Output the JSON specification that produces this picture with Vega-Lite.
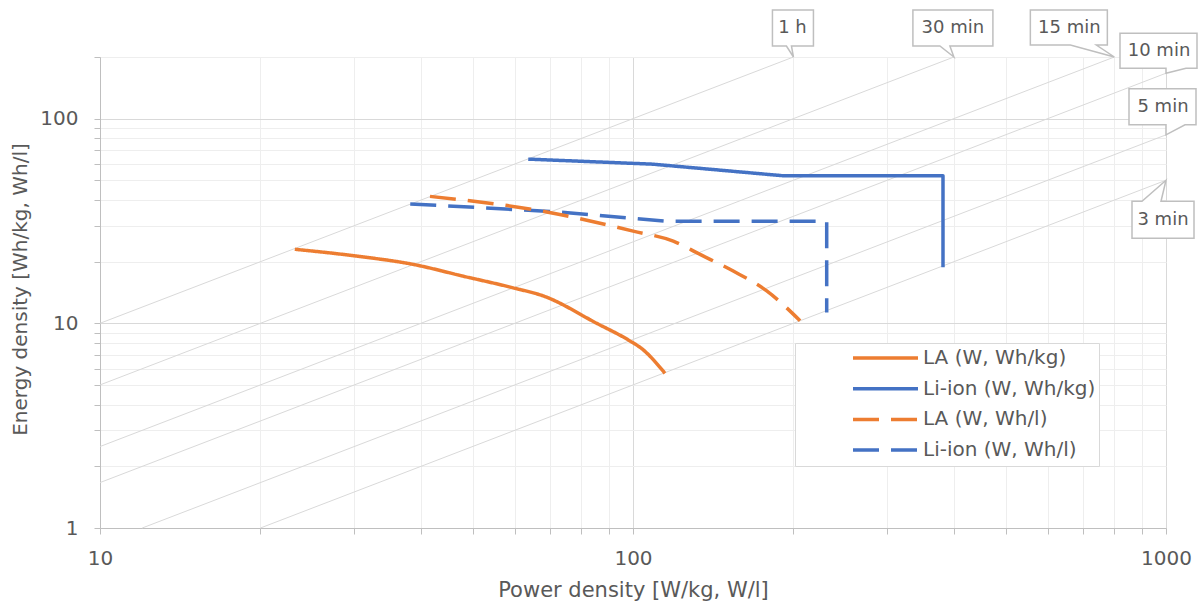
{
  "$schema": "https://vega.github.io/schema/vega-lite/v6.json",
  "width": 1066,
  "height": 471,
  "autosize": {"type": "none"},
  "padding": {"left": 100, "top": 57, "right": 36, "bottom": 77},
  "background": "white",
  "config": {
    "view": {"stroke": null},
    "font": "DejaVu Sans",
    "axis": {
      "tickColor": "#bfbfbf",
      "tickSize": 6,
      "domainColor": "#bfbfbf",
      "labelFontSize": 20,
      "labelColor": "#595959",
      "titleFontSize": 21,
      "titleColor": "#595959",
      "titleFontWeight": "normal",
      "labelFlush": false,
      "labelOverlap": false,
      "gridWidth": 1
    },
    "legend": {
      "title": null,
      "orient": "none",
      "legendX": 695,
      "legendY": 286,
      "padding": 3,
      "strokeColor": "#d9d9d9",
      "fillColor": "white",
      "symbolType": "stroke",
      "symbolSize": 4225,
      "symbolStrokeWidth": 3.5,
      "symbolOffset": 53,
      "labelOffset": 3,
      "clipHeight": 24,
      "rowPadding": 6.7,
      "labelFontSize": 20,
      "labelColor": "#595959",
      "labelLimit": 300
    }
  },
  "datasets": {
    "iso": [
      {"t": "1 h", "P": 10, "E": 10}, {"t": "1 h", "P": 200, "E": 200},
      {"t": "30 min", "P": 10, "E": 5}, {"t": "30 min", "P": 400, "E": 200},
      {"t": "15 min", "P": 10, "E": 2.5}, {"t": "15 min", "P": 800, "E": 200},
      {"t": "10 min", "P": 10, "E": 1.6667}, {"t": "10 min", "P": 1000, "E": 166.67},
      {"t": "5 min", "P": 12, "E": 1}, {"t": "5 min", "P": 1000, "E": 83.33},
      {"t": "3 min", "P": 20, "E": 1}, {"t": "3 min", "P": 1000, "E": 50}
    ],
    "callouts": [
      {"label": "1 h", "P": 200, "E": 200},
      {"label": "30 min", "P": 400, "E": 200},
      {"label": "15 min", "P": 800, "E": 200},
      {"label": "10 min", "P": 1000, "E": 166.67},
      {"label": "5 min", "P": 1000, "E": 83.33},
      {"label": "3 min", "P": 1000, "E": 50}
    ],
    "la": [
      {"series": "LA (W, Wh/kg)", "i": 1, "P": 23.2, "E": 23.0},
      {"series": "LA (W, Wh/kg)", "i": 2, "P": 30.3, "E": 21.3},
      {"series": "LA (W, Wh/kg)", "i": 3, "P": 38.7, "E": 19.4},
      {"series": "LA (W, Wh/kg)", "i": 4, "P": 48.0, "E": 17.0},
      {"series": "LA (W, Wh/kg)", "i": 5, "P": 59.6, "E": 14.9},
      {"series": "LA (W, Wh/kg)", "i": 6, "P": 67.9, "E": 13.6},
      {"series": "LA (W, Wh/kg)", "i": 7, "P": 85.5, "E": 10.0},
      {"series": "LA (W, Wh/kg)", "i": 8, "P": 98.7, "E": 8.2},
      {"series": "LA (W, Wh/kg)", "i": 9, "P": 104, "E": 7.5},
      {"series": "LA (W, Wh/kg)", "i": 10, "P": 114.8, "E": 5.7},
      {"series": "LA (W, Wh/l)", "i": 1, "P": 41.6, "E": 41.7},
      {"series": "LA (W, Wh/l)", "i": 2, "P": 68.9, "E": 35.0},
      {"series": "LA (W, Wh/l)", "i": 3, "P": 100.1, "E": 28.2},
      {"series": "LA (W, Wh/l)", "i": 4, "P": 119, "E": 25.2},
      {"series": "LA (W, Wh/l)", "i": 5, "P": 133.6, "E": 21.7},
      {"series": "LA (W, Wh/l)", "i": 6, "P": 154.2, "E": 18.0},
      {"series": "LA (W, Wh/l)", "i": 7, "P": 178.2, "E": 14.4},
      {"series": "LA (W, Wh/l)", "i": 8, "P": 205.8, "E": 10.3}
    ],
    "li": [
      {"series": "Li-ion (W, Wh/kg)", "i": 1, "P": 63.6, "E": 63.4},
      {"series": "Li-ion (W, Wh/kg)", "i": 2, "P": 109, "E": 59.9},
      {"series": "Li-ion (W, Wh/kg)", "i": 3, "P": 191, "E": 52.6},
      {"series": "Li-ion (W, Wh/kg)", "i": 4, "P": 381.6, "E": 52.6},
      {"series": "Li-ion (W, Wh/kg)", "i": 5, "P": 381.6, "E": 18.8},
      {"series": "Li-ion (W, Wh/l)", "i": 1, "P": 38.2, "E": 38.3},
      {"series": "Li-ion (W, Wh/l)", "i": 2, "P": 72.9, "E": 35.0},
      {"series": "Li-ion (W, Wh/l)", "i": 3, "P": 115.7, "E": 31.5},
      {"series": "Li-ion (W, Wh/l)", "i": 4, "P": 230.9, "E": 31.5},
      {"series": "Li-ion (W, Wh/l)", "i": 5, "P": 230.9, "E": 11.3}
    ]
  },
  "encoding": {
    "x": {
      "field": "P",
      "type": "quantitative",
      "scale": {"type": "log", "domain": [10, 1000], "nice": false},
      "axis": {
        "title": "Power density [W/kg, W/l]",
        "values": [10, 20, 30, 40, 50, 60, 70, 80, 90, 100, 200, 300, 400, 500, 600, 700, 800, 900, 1000],
        "labelExpr": "(datum.value == 10 || datum.value == 100 || datum.value == 1000) ? format(datum.value, 'd') : ''",
        "gridColor": {"condition": {"test": "datum.value == 10 || datum.value == 100 || datum.value == 1000", "value": "#d9d9d9"}, "value": "#eeeeee"},
        "labelPadding": 14,
        "titleY": 62,
        "titleBaseline": "middle"
      }
    },
    "y": {
      "field": "E",
      "type": "quantitative",
      "scale": {"type": "log", "domain": [1, 200], "nice": false},
      "axis": {
        "title": "Energy density [Wh/kg, Wh/l]",
        "values": [1, 2, 3, 4, 5, 6, 7, 8, 9, 10, 20, 30, 40, 50, 60, 70, 80, 90, 100, 200],
        "labelExpr": "(datum.value == 1 || datum.value == 10 || datum.value == 100) ? format(datum.value, 'd') : ''",
        "gridColor": {"condition": {"test": "datum.value == 1 || datum.value == 10 || datum.value == 100", "value": "#d9d9d9"}, "value": "#eeeeee"},
        "labelPadding": 16,
        "titleX": -80,
        "titleY": 232,
        "titleAngle": -90,
        "titleAlign": "center",
        "titleBaseline": "middle",
        "titleFontSize": 20
      }
    }
  },
  "layer": [
    {
      "data": {"name": "iso"},
      "mark": {"type": "line", "color": "#d9d9d9", "strokeWidth": 1},
      "encoding": {"detail": {"field": "t", "type": "nominal"}}
    },
    {
      "data": {"name": "callouts"},
      "mark": {"type": "point", "filled": true, "fill": "white", "stroke": "#bfbfbf", "strokeWidth": 1.5, "size": 4, "opacity": 1},
      "encoding": {
        "shape": {
          "field": "label",
          "type": "nominal",
          "scale": {
            "domain": ["1 h", "30 min", "15 min", "10 min", "5 min", "3 min"],
            "range": [
              "M0,0L-7,-11L-21,-11L-21,-47L20,-47L20,-11L-2,-11Z",
              "M0,0L-14,-11L-41,-11L-41,-47L39,-47L39,-11L-4,-11Z",
              "M0,0L-44,-12L-84,-12L-84,-47L-7,-47L-7,-12L-18,-12Z",
              "M0,0L0,-5L-46,-5L-46,-40L31,-40L31,-5L20,-5Z",
              "M0,0L0,-10L-37,-10L-37,-46L30,-46L30,-10L19,-10Z",
              "M0,0L-5,21L28,21L28,58L-34,58L-34,21L-24,21Z"
            ]
          },
          "legend": null
        }
      }
    },
    {
      "data": {"name": "callouts"},
      "transform": [{"filter": "datum.label == '1 h'"}],
      "mark": {"type": "text", "dx": -1, "dy": -29, "fontSize": 18, "color": "#595959", "align": "center", "baseline": "middle"},
      "encoding": {"text": {"field": "label"}}
    },
    {
      "data": {"name": "callouts"},
      "transform": [{"filter": "datum.label == '30 min'"}],
      "mark": {"type": "text", "dx": -1, "dy": -29, "fontSize": 18, "color": "#595959", "align": "center", "baseline": "middle"},
      "encoding": {"text": {"field": "label"}}
    },
    {
      "data": {"name": "callouts"},
      "transform": [{"filter": "datum.label == '15 min'"}],
      "mark": {"type": "text", "dx": -45, "dy": -29, "fontSize": 18, "color": "#595959", "align": "center", "baseline": "middle"},
      "encoding": {"text": {"field": "label"}}
    },
    {
      "data": {"name": "callouts"},
      "transform": [{"filter": "datum.label == '10 min'"}],
      "mark": {"type": "text", "dx": -7, "dy": -22, "fontSize": 18, "color": "#595959", "align": "center", "baseline": "middle"},
      "encoding": {"text": {"field": "label"}}
    },
    {
      "data": {"name": "callouts"},
      "transform": [{"filter": "datum.label == '5 min'"}],
      "mark": {"type": "text", "dx": -3, "dy": -28, "fontSize": 18, "color": "#595959", "align": "center", "baseline": "middle"},
      "encoding": {"text": {"field": "label"}}
    },
    {
      "data": {"name": "callouts"},
      "transform": [{"filter": "datum.label == '3 min'"}],
      "mark": {"type": "text", "dx": -3, "dy": 40, "fontSize": 18, "color": "#595959", "align": "center", "baseline": "middle"},
      "encoding": {"text": {"field": "label"}}
    },
    {
      "data": {"name": "li"},
      "mark": {"type": "line", "strokeWidth": 3.5, "strokeJoin": "round"},
      "encoding": {
        "order": {"field": "i", "type": "quantitative"},
        "color": {
          "field": "series",
          "type": "nominal",
          "scale": {
            "domain": ["LA (W, Wh/kg)", "Li-ion (W, Wh/kg)", "LA (W, Wh/l)", "Li-ion (W, Wh/l)"],
            "range": ["#ED7D31", "#4472C4", "#ED7D31", "#4472C4"]
          }
        },
        "strokeDash": {
          "field": "series",
          "type": "nominal",
          "scale": {
            "domain": ["LA (W, Wh/kg)", "Li-ion (W, Wh/kg)", "LA (W, Wh/l)", "Li-ion (W, Wh/l)"],
            "range": [[1, 0], [1, 0], [26, 12], [26, 12]]
          }
        }
      }
    },
    {
      "data": {"name": "la"},
      "mark": {"type": "line", "strokeWidth": 3.5, "interpolate": "monotone"},
      "encoding": {
        "order": {"field": "i", "type": "quantitative"},
        "color": {
          "field": "series",
          "type": "nominal",
          "scale": {
            "domain": ["LA (W, Wh/kg)", "Li-ion (W, Wh/kg)", "LA (W, Wh/l)", "Li-ion (W, Wh/l)"],
            "range": ["#ED7D31", "#4472C4", "#ED7D31", "#4472C4"]
          }
        },
        "strokeDash": {
          "field": "series",
          "type": "nominal",
          "scale": {
            "domain": ["LA (W, Wh/kg)", "Li-ion (W, Wh/kg)", "LA (W, Wh/l)", "Li-ion (W, Wh/l)"],
            "range": [[1, 0], [1, 0], [26, 12], [26, 12]]
          }
        }
      }
    }
  ]
}
